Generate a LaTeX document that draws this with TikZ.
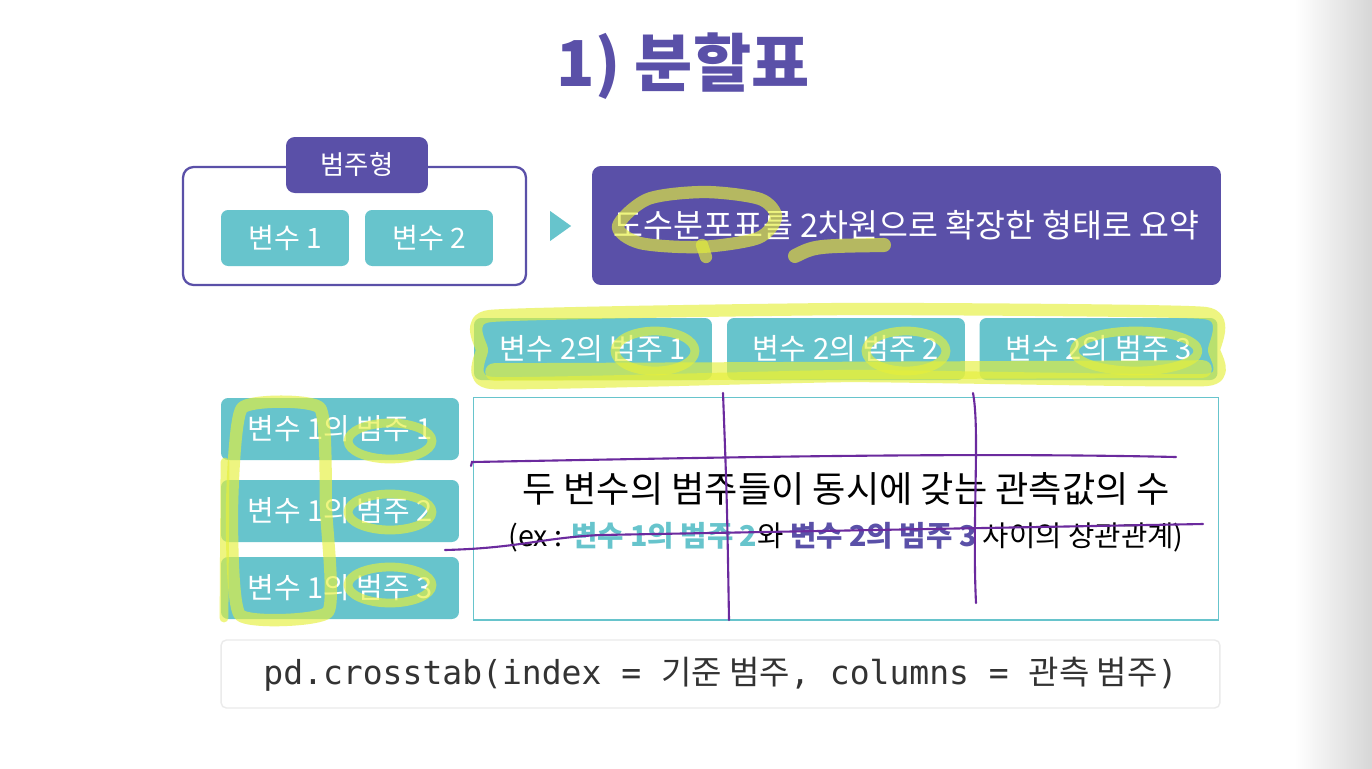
\documentclass[tikz,border=0pt]{standalone}
\usepackage{fontspec}
\setmainfont{Noto Sans CJK KR}
\setmonofont{DejaVu Sans Mono}
\newfontfamily\krfont{Noto Sans CJK KR}
\usepackage{xcolor}
\usetikzlibrary{positioning, calc, shapes.geometric}
\definecolor{catpurple}{HTML}{5A50A8}
\definecolor{catteal}{HTML}{67C4CC}
\definecolor{hlyellow}{HTML}{E6F03C}
\definecolor{penpurple}{HTML}{6B2A9E}

\tikzset{
  tealbox/.style={fill=catteal, rounded corners=4pt, text=white, inner sep=0pt},
  purplebox/.style={fill=catpurple, rounded corners=5pt, text=white, inner sep=0pt},
  hl/.style={draw=hlyellow, opacity=0.65, line width=7pt, line cap=round, line join=round},
  pen/.style={draw=penpurple, line width=1.2pt, line cap=round}
}

\begin{document}
\begin{tikzpicture}[x=0.02cm, y=-0.02cm]
\useasboundingbox (0,0) rectangle (1372,768);
\fill[white] (0,0) rectangle (1372,768);
\shade[left color=white, right color=black!16] (1295,0) rectangle (1372,768);

% title
\node[font=\bfseries\fontsize{36}{42}\selectfont, text=catpurple] (title) at (683,66) {1) 분할표};

% categorical group
\node[draw=catpurple, line width=1.3pt, rounded corners=6pt, minimum width=6.86cm, minimum height=2.36cm] (group) at (354.5,226) {};
\node[purplebox, minimum width=2.84cm, minimum height=1.12cm, font=\fontsize{15}{18}\selectfont] (tag) at (357,165) {범주형};
\node[tealbox, minimum width=2.56cm, minimum height=1.12cm, font=\fontsize{16}{19}\selectfont] (var1) at (285,238) {변수 1};
\node[tealbox, minimum width=2.56cm, minimum height=1.12cm, font=\fontsize{16}{19}\selectfont] (var2) at (429,238) {변수 2};

% arrow head
\fill[catteal] ($(group.east)+(23,-15)$) -- ($(group.east)+(44,0)$) -- ($(group.east)+(23,15)$) -- cycle;

% summary
\node[purplebox, minimum width=12.58cm, minimum height=2.38cm, font=\fontsize{18.5}{22}\selectfont] (summary) at (906.5,225.5) {도수분포표를 2차원으로 확장한 형태로 요약};

% column headers
\foreach \i/\x in {1/593, 2/846, 3/1098.5} {
  \node[tealbox, minimum width=4.76cm, minimum height=1.24cm, font=\fontsize{16.6}{19}\selectfont] (col\i) at (\x,349) {변수 2의 범주 \i};
}
% row headers
\foreach \i/\y in {1/429, 2/511, 3/588} {
  \node[tealbox, minimum width=4.76cm, minimum height=1.24cm, font=\fontsize{16.5}{19}\selectfont] (row\i) at (340,\y) {변수 1의 범주 \i};
}

% table body
\node[draw=catteal, line width=0.6pt, minimum width=14.92cm, minimum height=4.46cm] (body) at (846,508.5) {};
\node[font=\fontsize{20.6}{24}\selectfont] (count) at (846,489) {두 변수의 범주들이 동시에 갖는 관측값의 수};
\node[font=\fontsize{16.3}{19}\selectfont] (example) at (846,537) {(ex : {\bfseries\color{catteal}변수 1의 범주 2}와 {\bfseries\color{catpurple}변수 2의 범주 3} 사이의 상관관계)};

% code
\node[draw=black!8, line width=0.8pt, rounded corners=3pt, minimum width=19.98cm, minimum height=1.36cm, font=\ttfamily\fontsize{18.8}{22}\selectfont, text=black!80] (code) at (720.5,674) {pd.crosstab(index = {\krfont 기준 범주}, columns = {\krfont 관측 범주})};

% highlighter marks
\draw[hl] plot[smooth cycle] coordinates {(618,226) (648,199) (705,192) (760,199) (776,217) (758,238) (700,247) (640,243)};
\draw[hl] (702,245) -- (706,257);
\draw[hl, line width=8pt] (795,256) .. controls (815,246) .. (884,245);
\draw[hl] plot[smooth cycle, tension=0.25] coordinates {(490,316) (850,309) (1205,313) (1214,350) (1206,380) (850,376) (492,383) (482,350)};
\draw[hl, line width=10pt] (494,372) -- (1203,369);
\foreach \x/\rx in {655/40, 906/40, 1136/62} {
  \draw[hl, line width=5pt] (\x,351) ellipse ({\rx} and 20);
}
\draw[hl] plot[smooth cycle, tension=0.3] coordinates {(242,408) (320,408) (326,510) (328,612) (240,615) (232,510)};
\draw[hl, line width=5pt] (225,462) -- (224,618);
\foreach \y in {441, 512, 585} {
  \draw[hl, line width=5pt] (390,\y) ellipse (42 and 18);
}

% pen marks
\draw[pen] (723,393) .. controls (727,500) .. (729,620);
\draw[pen] (973,393) .. controls (980,430) and (972,520) .. (976,603);
\draw[pen] (471,466) -- (472,462) .. controls (700,458) and (950,452) .. (1176,457);
\draw[pen] (445,550) .. controls (520,548) and (540,538) .. (600,535) -- (1203,524);
\end{tikzpicture}
\end{document}
